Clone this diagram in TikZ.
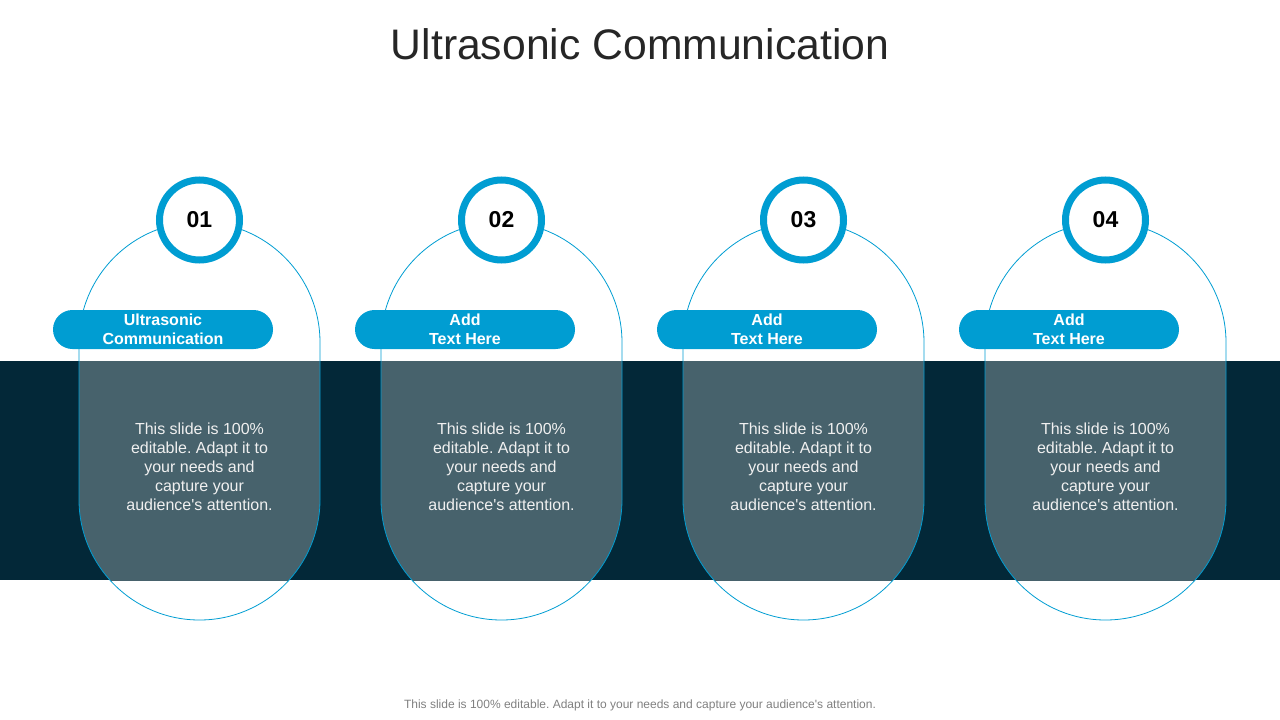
\documentclass[tikz,border=0pt]{standalone}
\usepackage{fontspec}
\setmainfont{Liberation Sans}
\frenchspacing
\definecolor{ringblue}{RGB}{0,157,210}
\definecolor{bandnavy}{RGB}{3,40,56}
\definecolor{slate}{RGB}{71,98,108}
\definecolor{titlegray}{RGB}{38,38,38}
\begin{document}
\begin{tikzpicture}[x=1pt,y=-1pt,
  capsule/.style={draw=ringblue,line width=0.8pt,rounded corners=120.5pt},
  pill/.style={fill=ringblue,rounded corners=19.5pt,minimum width=220pt,minimum height=39pt,inner sep=0pt,text=white,font=\fontsize{16}{19}\selectfont\bfseries,align=center},
  ring/.style={circle,draw=ringblue,line width=7pt,fill=white,minimum size=80pt,inner sep=0pt,font=\fontsize{23}{27}\selectfont\bfseries},
  body/.style={text=white!94!black,font=\fontsize{16}{19}\selectfont,align=center}]
\useasboundingbox (0,0) rectangle (1280,720);
\node[font=\fontsize{42.7}{50}\selectfont,text=titlegray] (title) at (640,44) {Ultrasonic Communication};
\fill[bandnavy] (0,361) rectangle (1280,580);
% slate part of each capsule, only inside the band
\begin{scope}
\clip (0,361) rectangle (1280,580);
\fill[slate,rounded corners=120.5pt] (79,222) rectangle (320,620);
\fill[slate,rounded corners=120.5pt] (381,222) rectangle (622,620);
\fill[slate,rounded corners=120.5pt] (683,222) rectangle (924,620);
\fill[slate,rounded corners=120.5pt] (985,222) rectangle (1226,620);
\end{scope}
\draw[capsule] (79,222) rectangle (320,620);
\draw[capsule] (381,222) rectangle (622,620);
\draw[capsule] (683,222) rectangle (924,620);
\draw[capsule] (985,222) rectangle (1226,620);
\node[pill] (lab1) at (163,329.5) {Ultrasonic\\Communication};
\node[pill] (lab2) at (465,329.5) {Add\\Text Here};
\node[pill] (lab3) at (767,329.5) {Add\\Text Here};
\node[pill] (lab4) at (1069,329.5) {Add\\Text Here};
\node[ring] (num1) at (199.5,220) {01};
\node[ring] (num2) at (501.5,220) {02};
\node[ring] (num3) at (803.5,220) {03};
\node[ring] (num4) at (1105.5,220) {04};
\node[body] (txt1) at (199.5,467) {This slide is 100\%\\editable. Adapt it to\\your needs and\\capture your\\audience\textquotesingle s attention.};
\node[body] (txt2) at (501.5,467) {This slide is 100\%\\editable. Adapt it to\\your needs and\\capture your\\audience\textquotesingle s attention.};
\node[body] (txt3) at (803.5,467) {This slide is 100\%\\editable. Adapt it to\\your needs and\\capture your\\audience\textquotesingle s attention.};
\node[body] (txt4) at (1105.5,467) {This slide is 100\%\\editable. Adapt it to\\your needs and\\capture your\\audience\textquotesingle s attention.};
\node[font=\fontsize{12}{14}\selectfont,text=gray] (foot) at (640,705) {This slide is 100\% editable. Adapt it to your needs and capture your audience\textquotesingle s attention.};
\end{tikzpicture}
\end{document}
